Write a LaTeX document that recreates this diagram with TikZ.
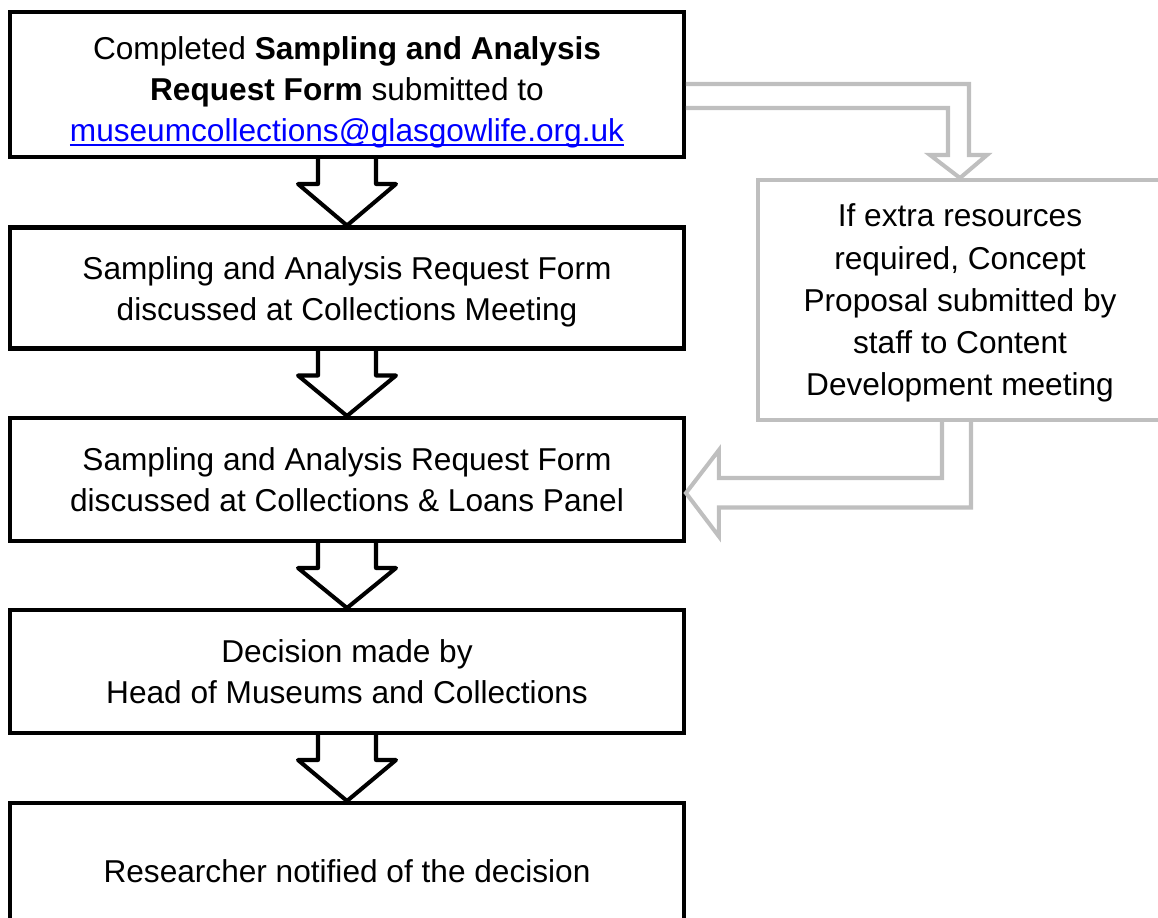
\documentclass[tikz,border=0pt]{standalone}
\usepackage{fontspec}
\setmainfont{Liberation Sans}
\usepackage{tikz}
\usetikzlibrary{calc}
\definecolor{paleline}{HTML}{BFBFBF}
\definecolor{linkblue}{HTML}{0000FF}
\newcommand{\linkline}[1]{\setbox0\hbox{#1}\rlap{\rule[-2.8pt]{\wd0}{1.1pt}}\box0}
\tikzset{
  box/.style={draw=black, line width=2.3pt, minimum width=13.48cm, align=center,
    font=\fontsize{18}{23.3}\selectfont},
  greybox/.style={draw=paleline, line width=2.3pt, minimum width=8.1cm, minimum height=4.8cm,
    align=center, font=\fontsize{18}{24}\selectfont},
  blockarrow/.style={draw=black, line width=2.3pt, line join=round},
  greyarrow/.style={draw=paleline, line width=2.3pt, line join=miter}
}
\newcommand{\flowarrow}[2]{%
  \draw[blockarrow] ($(#1.south)+(-29,0)$) -- ++(0,25) -- ++(-20,0) -- (#2.north)
    -- ($(#1.south)+(49,25)$) -- ++(-20,0) -- ++(0,-25);}

\begin{document}
\begin{tikzpicture}[x=0.02cm, y=-0.02cm]
        \useasboundingbox (0,0) rectangle (1158,918);
        \node[box, minimum height=2.9cm] (box1) at (347,84.5) {\rule{0pt}{21.5pt}Completed \textbf{Sampling and Analysis}\\ \textbf{Request Form} submitted to\\ {\color{linkblue}\linkline{museumcollections@glasgowlife.org.uk}}};
        \node[box, minimum height=2.42cm] (box2) at (347,288) {\rule{0pt}{17.5pt}Sampling and Analysis Request Form\\ discussed at Collections Meeting};
        \node[box, minimum height=2.46cm] (box3) at (347,479.5) {Sampling and Analysis Request Form\\ discussed at Collections \& Loans Panel};
        \node[box, minimum height=2.46cm] (box4) at (347,671.5) {Decision made by\\ Head of Museums and Collections};
        \node[box, minimum height=2.74cm] (box5) at (347,871.5) {Researcher notified of the decision};
        \node[greybox] (extra) at (960,300) {\rule{0pt}{16.5pt}If extra resources\\ required, Concept\\ Proposal submitted by\\ staff to Content\\ Development meeting};
        % main flow
        \flowarrow{box1}{box2}
        \flowarrow{box2}{box3}
        \flowarrow{box3}{box4}
        \flowarrow{box4}{box5}
        % side route
        \draw[greyarrow] ($(box1.east)+(0,-0.5)$) -| ($(extra.north)+(9,-23)$) -- ++(18,0) -- (extra.north)
          -- ++(-30,-23) -- ++(18,0) |- ($(box1.east)+(0,23.5)$);
        \draw[greyarrow] ($(extra.south)+(-18,0)$) |- ($(box3.east)+(33,-1.5)$) -- ++(0,-28)
          -- ($(box3.east)+(0,13.5)$) -- ++(33,43.5) -- ++(0,-29) -| ($(extra.south)+(11,0)$);
    \end{tikzpicture}
\end{document}
